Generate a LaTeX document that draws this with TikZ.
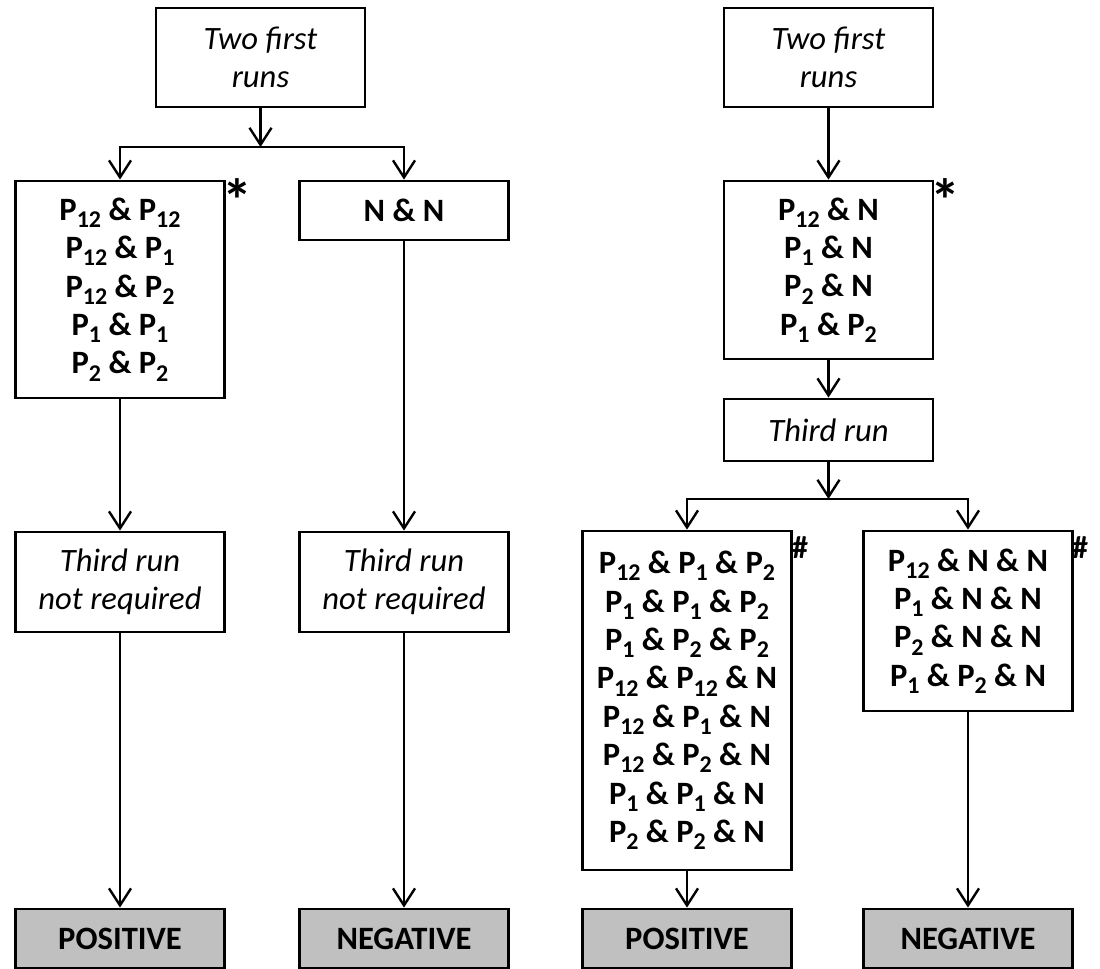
\documentclass[tikz,border=0pt]{standalone}
\usepackage{fontspec}
\setmainfont{Carlito}
\usetikzlibrary{arrows.meta}
\definecolor{resgray}{RGB}{192,192,192}
\newcommand{\Pn}[1]{P\raisebox{-0.22em}{\fontsize{12pt}{12pt}\selectfont #1}}
\tikzset{
  box/.style={draw, line width=1.4pt, minimum width=104.5pt, align=center, inner sep=2pt, font=\fontsize{16.3pt}{19.2pt}\selectfont\bfseries},
  note/.style={box, font=\fontsize{16.3pt}{19.2pt}\selectfont\itshape},
  result/.style={box, fill=resgray, minimum height=29.5pt},
  arr/.style={-{Straight Barb[length=8.5pt,width=11pt]}, line width=1.2pt},
  startag/.style={inner sep=0pt, font=\fontsize{30pt}{30pt}\selectfont\bfseries},
  hashtag/.style={inner sep=0pt, font=\fontsize{16pt}{16pt}\selectfont\bfseries}
}
\begin{document}
\begin{tikzpicture}[x=0.5pt, y=-0.5pt]
    \useasboundingbox (0,0) rectangle (1100,969);

    \node[note, minimum height=49.5pt] (ltop) at (260.5,57.5) {Two first\\runs};
    \coordinate (lsplit) at (260.5,147);
    \node[box, minimum height=108.5pt] (lpos) at (120,289.5) {\Pn{12} \& \Pn{12}\\\Pn{12} \& \Pn{1}\\\Pn{12} \& \Pn{2}\\\Pn{1} \& \Pn{1}\\\Pn{2} \& \Pn{2}};
    \node[box, minimum height=29.5pt] (lneg) at (404,210.5) {N \& N};
    \node[note, minimum height=50pt] (lpnr) at (120,582) {Third run\\not required};
    \node[note, minimum height=50pt] (lnnr) at (404,582) {Third run\\not required};
    \node[result] (lposres) at (120,938.5) {POSITIVE};
    \node[result] (lnegres) at (404,938.5) {NEGATIVE};
    \node[startag] (lstar) at (237,200) {*};

    \node[note, minimum height=49.5pt] (rtop) at (828.5,57.5) {Two first\\runs};
    \node[box, minimum height=89pt] (rmix) at (828.5,270) {\Pn{12} \& N\\\Pn{1} \& N\\\Pn{2} \& N\\\Pn{1} \& \Pn{2}};
    \node[note, minimum height=31pt] (rthird) at (828.5,430) {Third run};
    \coordinate (rsplit) at (828.5,499);
    \node[box, minimum height=169.5pt] (rpos) at (687,700.5) {\Pn{12} \& \Pn{1} \& \Pn{2}\\\Pn{1} \& \Pn{1} \& \Pn{2}\\\Pn{1} \& \Pn{2} \& \Pn{2}\\\Pn{12} \& \Pn{12} \& N\\\Pn{12} \& \Pn{1} \& N\\\Pn{12} \& \Pn{2} \& N\\\Pn{1} \& \Pn{1} \& N\\\Pn{2} \& \Pn{2} \& N};
    \node[box, minimum height=90pt] (rneg) at (968,621) {\Pn{12} \& N \& N\\\Pn{1} \& N \& N\\\Pn{2} \& N \& N\\\Pn{1} \& \Pn{2} \& N};
    \node[result] (rposres) at (687,938.5) {POSITIVE};
    \node[result] (rnegres) at (968,938.5) {NEGATIVE};
    \node[startag] (rstar) at (945,200) {*};
    \node[hashtag] (rposhash) at (800,548) {\#};
    \node[hashtag] (rneghash) at (1080,548) {\#};

    \draw[arr] (ltop) -- (lsplit);
    \draw[arr] (lsplit) -| (lpos);
    \draw[arr] (lsplit) -| (lneg);
    \draw[arr] (lpos) -- (lpnr);
    \draw[arr] (lneg) -- (lnnr);
    \draw[arr] (lpnr) -- (lposres);
    \draw[arr] (lnnr) -- (lnegres);

    \draw[arr] (rtop) -- (rmix);
    \draw[arr] (rmix) -- (rthird);
    \draw[arr] (rthird) -- (rsplit);
    \draw[arr] (rsplit) -| (rpos);
    \draw[arr] (rsplit) -| (rneg);
    \draw[arr] (rpos) -- (rposres);
    \draw[arr] (rneg) -- (rnegres);
\end{tikzpicture}
\end{document}
